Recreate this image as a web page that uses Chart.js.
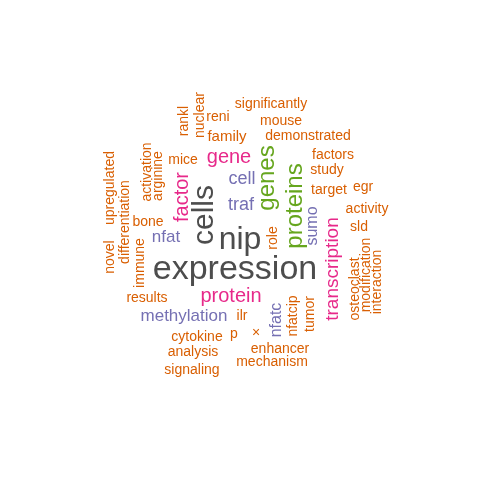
<!DOCTYPE html><html><head><style>html,body{margin:0;background:#fff}#w{width:480px;height:480px}</style>
<script src="https://cdn.jsdelivr.net/npm/chart.js"></script></head><body><div id="w"><canvas id="c"></canvas></div><script>
const words=["expression","nip","cells","genes","proteins","gene","factor","protein","transcription","cell","traf","sumo","nfat","methylation","nfatc","significantly","mouse","reni","nuclear","rankl","family","demonstrated","factors","study","target","egr","activity","sld","mice","arginine","activation","upregulated","novel","differentiation","immune","bone","role","results","ilr","cytokine","p","×","nfatcip","tumor","enhancer","analysis","mechanism","signaling","osteoclast","modification","interaction"];
const xs=[235,240,205,267,295,229,182,231,333,242,241,313,166,184,277,271,281,218,200,184,227,308,333,327,329,363,367,359,183,158,147,110,110,125,140,148,273,147,242,197,234,256,293,310,280,193,272,192,355,366,377];
const ys=[270,240,215,178,206,157,197,296,269,179,205,226,237,316,320,104,121,117,115,121,137,136,155,170,190,187,209,227,160,176,172,188,257,222,263,222,238,298,316,337,334,333,316,314,349,352,362,370,289,275,282];
const sizes=[34,32,30,24,24,20,20,20,19,18,18,16,17,17,16,14,14,14,14,14,15,14,14,14,14,14,14,14,14,14,14,14,14,14,14,14,14,14,14,14,14,14,14,14,14,14,14,14,14,14,14];
const rot=[0,0,1,1,1,0,1,0,1,0,0,1,0,0,1,0,0,0,1,1,0,0,0,0,0,0,0,0,0,1,1,1,1,1,1,0,1,0,0,0,0,0,1,1,0,0,0,0,1,1,1];
const groups=[0,0,0,1,1,2,2,2,2,3,3,3,3,3,3];
const palette=["#4d4d4d","#66a61e","#e7298a","#7570b3","#d95f02"];
const textPlugin={id:'t',afterDatasetsDraw(ch){const ctx=ch.ctx;const m=ch.getDatasetMeta(0);
m.data.forEach((pt,i)=>{ctx.save();ctx.translate(pt.x,pt.y);if(rot[i])ctx.rotate(-Math.PI/2);
ctx.font=sizes[i]+'px "Liberation Sans", Arial, sans-serif';ctx.fillStyle=palette[i<groups.length?groups[i]:4];
ctx.textAlign='center';ctx.textBaseline='middle';ctx.fillText(words[i],0,0);ctx.restore();});}};
new Chart(document.getElementById('c'),{type:'scatter',data:{datasets:[{data:xs.map((x,i)=>({x,y:ys[i]})),pointRadius:0}]},
options:{responsive:true,maintainAspectRatio:false,animation:false,layout:{padding:0},
plugins:{legend:{display:false},tooltip:{enabled:false}},
scales:{x:{display:false,min:0,max:480},y:{display:false,min:0,max:480,reverse:true}}},plugins:[textPlugin]});
</script></body></html>
